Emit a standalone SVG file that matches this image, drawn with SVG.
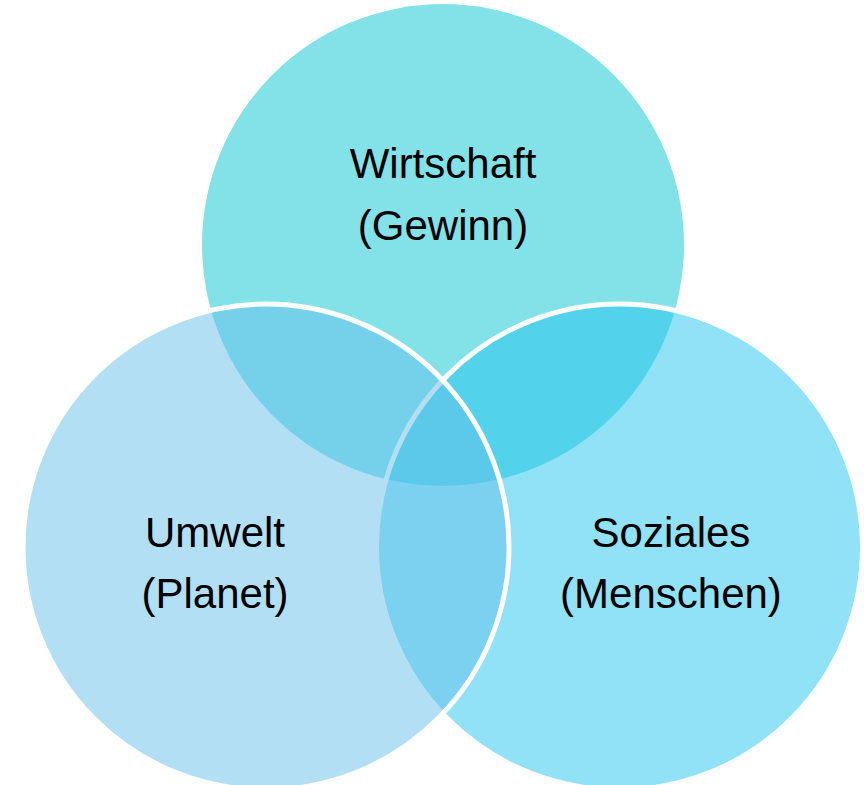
<svg xmlns="http://www.w3.org/2000/svg" width="864" height="785" viewBox="0 0 864 785">
<style>
  .lbl { font-family: "Liberation Sans", Arial, sans-serif; font-size: 42px; fill: #000000; text-anchor: middle; }
  .ring { stroke: #ffffff; stroke-width: 5; }
</style>
<rect x="0" y="0" width="864" height="785" fill="#ffffff"/>
<g id="wirtschaft">
  <circle cx="443" cy="245" r="241" fill="#83e1e8"/>
</g>
<g id="soziales">
  <circle class="ring" cx="619.5" cy="547" r="243" fill="#23c5ed" fill-opacity="0.5"/>
</g>
<g id="umwelt">
  <circle class="ring" cx="266" cy="547" r="243" fill="#67bfe9" fill-opacity="0.5"/>
</g>
<g id="connectors"></g>
<g id="labels">
  <text class="lbl" x="443" y="178">Wirtschaft</text>
  <text class="lbl" x="443" y="240">(Gewinn)</text>
  <text class="lbl" x="215" y="547">Umwelt</text>
  <text class="lbl" x="215" y="608">(Planet)</text>
  <text class="lbl" x="671" y="547">Soziales</text>
  <text class="lbl" x="671" y="608">(Menschen)</text>
</g>
</svg>
